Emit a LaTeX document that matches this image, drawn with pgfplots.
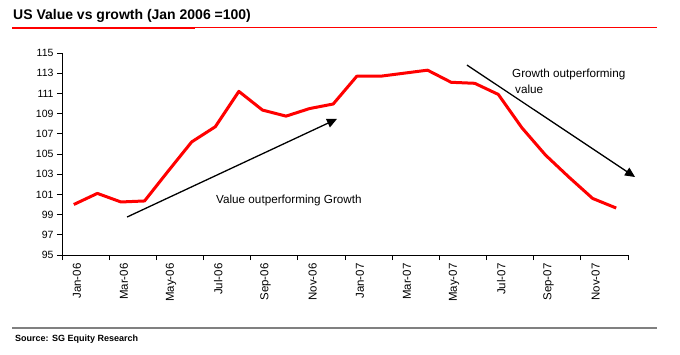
\documentclass[border=0pt]{standalone}
\usepackage{fontspec}
\setmainfont{Liberation Sans}
\usepackage{pgfplots}
\pgfplotsset{compat=1.18}
\usetikzlibrary{arrows.meta}
\begin{document}
\begin{tikzpicture}[x=1pt,y=1pt]
\path[use as bounding box] (0,0) rectangle (680,354);
% title and rules
\node[anchor=base west, inner sep=0pt, font=\fontsize{14}{16}\selectfont\bfseries] at (13,334) {US Value vs growth (Jan 2006 =100)};
\draw[red, line width=1pt] (12,326) -- (657,326);
\draw[red, line width=2.2pt] (12,326) -- (195,326);
\draw[black!50, line width=1.3pt] (12,26) -- (657,26);
\node[anchor=base west, inner sep=0pt, font=\fontsize{9}{10}\selectfont\bfseries] at (15,13) {Source: SG Equity Research};
\begin{axis}[
  at={(62pt,99pt)}, anchor=south west,
  scale only axis, width=566pt, height=202pt,
  xmin=-0.5, xmax=23.5, ymin=95, ymax=115,
  axis x line=bottom, axis y line=left,
  axis line style={-, line width=1pt, black},
  ytick={95,97,...,115},
  xtick={0,2,...,22},
  xticklabels={Jan-06,Mar-06,May-06,Jul-06,Sep-06,Nov-06,Jan-07,Mar-07,May-07,Jul-07,Sep-07,Nov-07},
  minor xtick={-0.5,1.5,...,23.5},
  major x tick style={draw=none},
  tick align=outside,
  major tick length=5pt, minor tick length=5pt,
  tick style={black, line width=0.8pt},
  xticklabel style={rotate=90, anchor=east, font=\fontsize{11.5}{12}\selectfont, yshift=-3pt},
  yticklabel style={font=\fontsize{10.5}{12}\selectfont},
  /pgf/number format/assume math mode=true,
  clip=false,
]
\addplot[red, line width=3pt, line join=round] coordinates {
(0,100.0) (1,101.1) (2,100.25) (3,100.35) (4,103.3) (5,106.2) (6,107.7) (7,111.2)
(8,109.35) (9,108.75) (10,109.5) (11,109.95) (12,112.7) (13,112.7) (14,113.0) (15,113.3)
(16,112.1) (17,112.0) (18,110.9) (19,107.6) (20,104.9) (21,102.7) (22,100.6) (23,99.65)
};
\draw[black, line width=1.3pt, -{Triangle[length=10pt,width=9pt]}] (axis cs:2.26,98.76) -- (axis cs:11.16,108.47);
\draw[black, line width=1.3pt, -{Triangle[length=10pt,width=9pt]}] (axis cs:16.67,113.81) -- (axis cs:23.8,102.72);
\node[anchor=west, inner sep=0pt, font=\fontsize{11.7}{14}\selectfont] at (axis cs:6.03,100.35) {Value outperforming Growth};
\node[anchor=west, inner sep=0pt, font=\fontsize{11.7}{14}\selectfont] at (axis cs:18.58,112.9) {Growth outperforming};
\node[anchor=west, inner sep=0pt, font=\fontsize{11.7}{14}\selectfont] at (axis cs:18.71,111.4) {value};
\end{axis}
\end{tikzpicture}
\end{document}
